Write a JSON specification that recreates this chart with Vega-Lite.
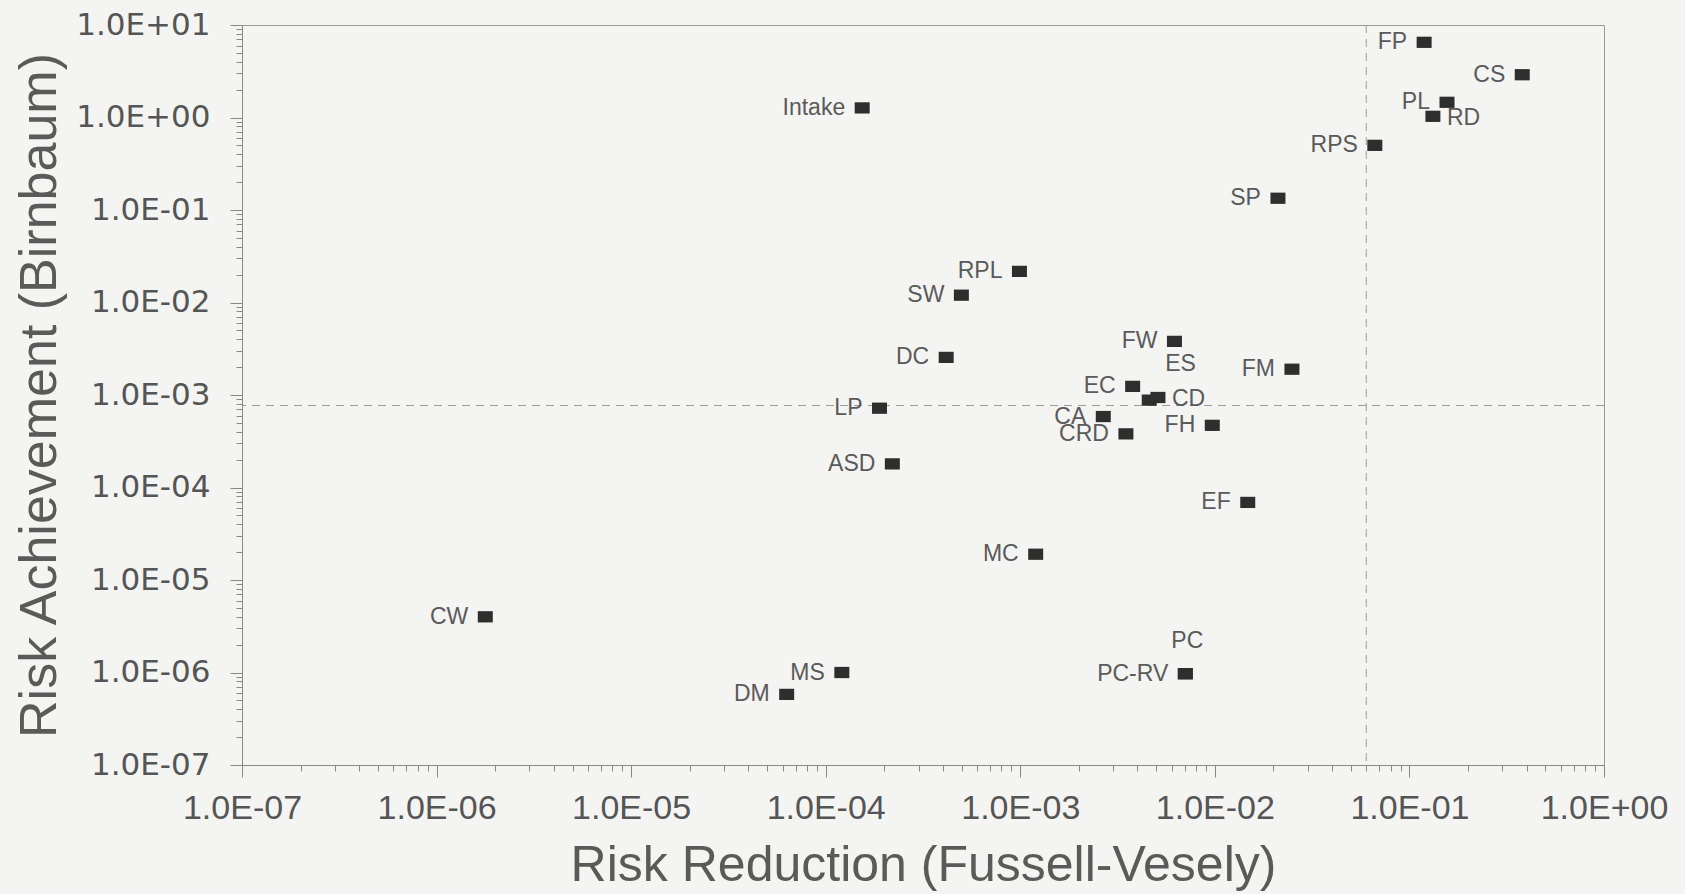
{
  "$schema": "https://vega.github.io/schema/vega-lite/v6.json",
  "autosize": "none",
  "padding": {"left": 242, "top": 25, "right": 81, "bottom": 129},
  "width": 1362,
  "height": 740,
  "background": "#f4f4f2",
  "config": {
    "view": {"stroke": "#9a9a9a", "strokeWidth": 1},
    "axis": {"grid": false, "domainColor": "#888", "tickColor": "#888", "labelColor": "#555", "titleColor": "#5a5a5a", "titleFont": "Liberation Sans", "titleFontWeight": "normal", "titleFontSize": 50, "labelOverlap": false, "labelBound": false, "labelFlush": false}
  },
  "data": {"values": [
    {"label": "FP", "fv": 0.119, "raw": 6.5},
    {"label": "CS", "fv": 0.38, "raw": 2.9},
    {"label": "PL", "fv": 0.156, "raw": 1.46},
    {"label": "RD", "fv": 0.132, "raw": 1.03},
    {"label": "RPS", "fv": 0.0664, "raw": 0.5},
    {"label": "SP", "fv": 0.0211, "raw": 0.134},
    {"label": "Intake", "fv": 0.000154, "raw": 1.27},
    {"label": "RPL", "fv": 0.00099, "raw": 0.0217},
    {"label": "SW", "fv": 0.000498, "raw": 0.012},
    {"label": "DC", "fv": 0.000416, "raw": 0.00255},
    {"label": "FW", "fv": 0.0062, "raw": 0.0038},
    {"label": "FM", "fv": 0.0249, "raw": 0.0019},
    {"label": "EC", "fv": 0.00378, "raw": 0.00124},
    {"label": "ES", "fv": 0.0046, "raw": 0.00088},
    {"label": "CD", "fv": 0.0051, "raw": 0.00094},
    {"label": "LP", "fv": 0.000189, "raw": 0.00072},
    {"label": "CA", "fv": 0.00267, "raw": 0.000585},
    {"label": "CRD", "fv": 0.00349, "raw": 0.00038},
    {"label": "FH", "fv": 0.0097, "raw": 0.00047},
    {"label": "ASD", "fv": 0.00022, "raw": 0.00018},
    {"label": "EF", "fv": 0.01476, "raw": 0.000069},
    {"label": "MC", "fv": 0.0012, "raw": 0.000019},
    {"label": "CW", "fv": 0.00000178, "raw": 0.000004},
    {"label": "MS", "fv": 0.000121, "raw": 0.000001},
    {"label": "DM", "fv": 0.000063, "raw": 0.00000058},
    {"label": "PC-RV", "fv": 0.00705, "raw": 0.00000097},
    {"label": "PC", "fv": 0.00705, "raw": 0.00000097}
  ]},
  "encoding": {
    "x": {"field": "fv", "type": "quantitative", "scale": {"type": "log", "domain": [1e-7, 1], "nice": false},
      "axis": {
        "title": "Risk Reduction (Fussell-Vesely)",
        "titleX": 681, "titleY": 100, "titleBaseline": "middle", "titleAlign": "center",
        "labelFont": "Liberation Sans", "labelFontSize": 34, "labelPadding": 14,
        "values": [1e-7,2e-7,3e-7,4e-7,5e-7,6e-7,7e-7,8e-7,9e-7,1e-6,2e-6,3e-6,4e-6,5e-6,6e-6,7e-6,8e-6,9e-6,1e-5,2e-5,3e-5,4e-5,5e-5,6e-5,7e-5,8e-5,9e-5,1e-4,2e-4,3e-4,4e-4,5e-4,6e-4,7e-4,8e-4,9e-4,0.001,0.002,0.003,0.004,0.005,0.006,0.007,0.008,0.009,0.01,0.02,0.03,0.04,0.05,0.06,0.07,0.08,0.09,0.1,0.2,0.3,0.4,0.5,0.6,0.7,0.8,0.9,1],
        "tickSize": {"condition": {"test": "abs(log(datum.value)/LN10 - round(log(datum.value)/LN10)) < 0.001", "value": 12}, "value": 6},
        "labelExpr": "abs(log(datum.value)/LN10 - round(log(datum.value)/LN10)) < 0.001 ? '1.0E' + (round(log(datum.value)/LN10) < 0 ? '-' : '+') + (abs(round(log(datum.value)/LN10)) < 10 ? '0' : '') + abs(round(log(datum.value)/LN10)) : ''"
      }},
    "y": {"field": "raw", "type": "quantitative", "scale": {"type": "log", "domain": [1e-7, 10], "nice": false},
      "axis": {
        "title": "Risk Achievement (Birnbaum)",
        "titleX": -203, "titleY": 370, "titleAngle": 270, "titleBaseline": "middle", "titleAlign": "center",
        "labelFont": "DejaVu Sans", "labelFontSize": 31, "labelPadding": 20, "titleFontSize": 52,
        "values": [1e-7,2e-7,3e-7,4e-7,5e-7,6e-7,7e-7,8e-7,9e-7,1e-6,2e-6,3e-6,4e-6,5e-6,6e-6,7e-6,8e-6,9e-6,1e-5,2e-5,3e-5,4e-5,5e-5,6e-5,7e-5,8e-5,9e-5,1e-4,2e-4,3e-4,4e-4,5e-4,6e-4,7e-4,8e-4,9e-4,0.001,0.002,0.003,0.004,0.005,0.006,0.007,0.008,0.009,0.01,0.02,0.03,0.04,0.05,0.06,0.07,0.08,0.09,0.1,0.2,0.3,0.4,0.5,0.6,0.7,0.8,0.9,1,2,3,4,5,6,7,8,9,10],
        "tickSize": {"condition": {"test": "abs(log(datum.value)/LN10 - round(log(datum.value)/LN10)) < 0.001", "value": 12}, "value": 6},
        "labelExpr": "abs(log(datum.value)/LN10 - round(log(datum.value)/LN10)) < 0.001 ? '1.0E' + (round(log(datum.value)/LN10) < 0 ? '-' : '+') + (abs(round(log(datum.value)/LN10)) < 10 ? '0' : '') + abs(round(log(datum.value)/LN10)) : ''"
      }}
  },
  "layer": [
    {
      "data": {"values": [{"v": 0.06}]},
      "mark": {"type": "rule", "color": "#9a9a9a", "strokeWidth": 1, "strokeDash": [8, 6]},
      "encoding": {"x": {"field": "v", "type": "quantitative"}, "y": null}
    },
    {
      "data": {"values": [{"h": 0.00077}]},
      "mark": {"type": "rule", "color": "#9a9a9a", "strokeWidth": 1, "strokeDash": [8, 6]},
      "encoding": {"y": {"field": "h", "type": "quantitative"}, "x": null}
    },
    {
      "mark": {"type": "point", "filled": true, "opacity": 1, "color": "#2e2e2e", "shape": "M-1,-0.75L1,-0.75L1,0.75L-1,0.75Z", "size": 225}
    },
    {
      "transform": [{"filter": "indexof(['RD','CD','ES','PC'], datum.label) < 0"}],
      "mark": {"type": "text", "align": "right", "baseline": "middle", "dx": -17, "font": "Liberation Sans", "fontSize": 23, "color": "#5a5a5a"},
      "encoding": {"text": {"field": "label"}}
    },
    {
      "transform": [{"filter": "datum.label === 'RD' || datum.label === 'CD'"}],
      "mark": {"type": "text", "align": "left", "baseline": "middle", "dx": 14, "dy": 2, "font": "Liberation Sans", "fontSize": 23, "color": "#5a5a5a"},
      "encoding": {"text": {"field": "label"}}
    },
    {
      "transform": [{"filter": "datum.label === 'ES'"}],
      "mark": {"type": "text", "align": "left", "baseline": "middle", "dx": 16, "dy": -36, "font": "Liberation Sans", "fontSize": 23, "color": "#5a5a5a"},
      "encoding": {"text": {"field": "label"}}
    },
    {
      "transform": [{"filter": "datum.label === 'PC'"}],
      "mark": {"type": "text", "align": "center", "baseline": "middle", "dx": 2, "dy": -33, "font": "Liberation Sans", "fontSize": 23, "color": "#5a5a5a"},
      "encoding": {"text": {"field": "label"}}
    }
  ]
}
